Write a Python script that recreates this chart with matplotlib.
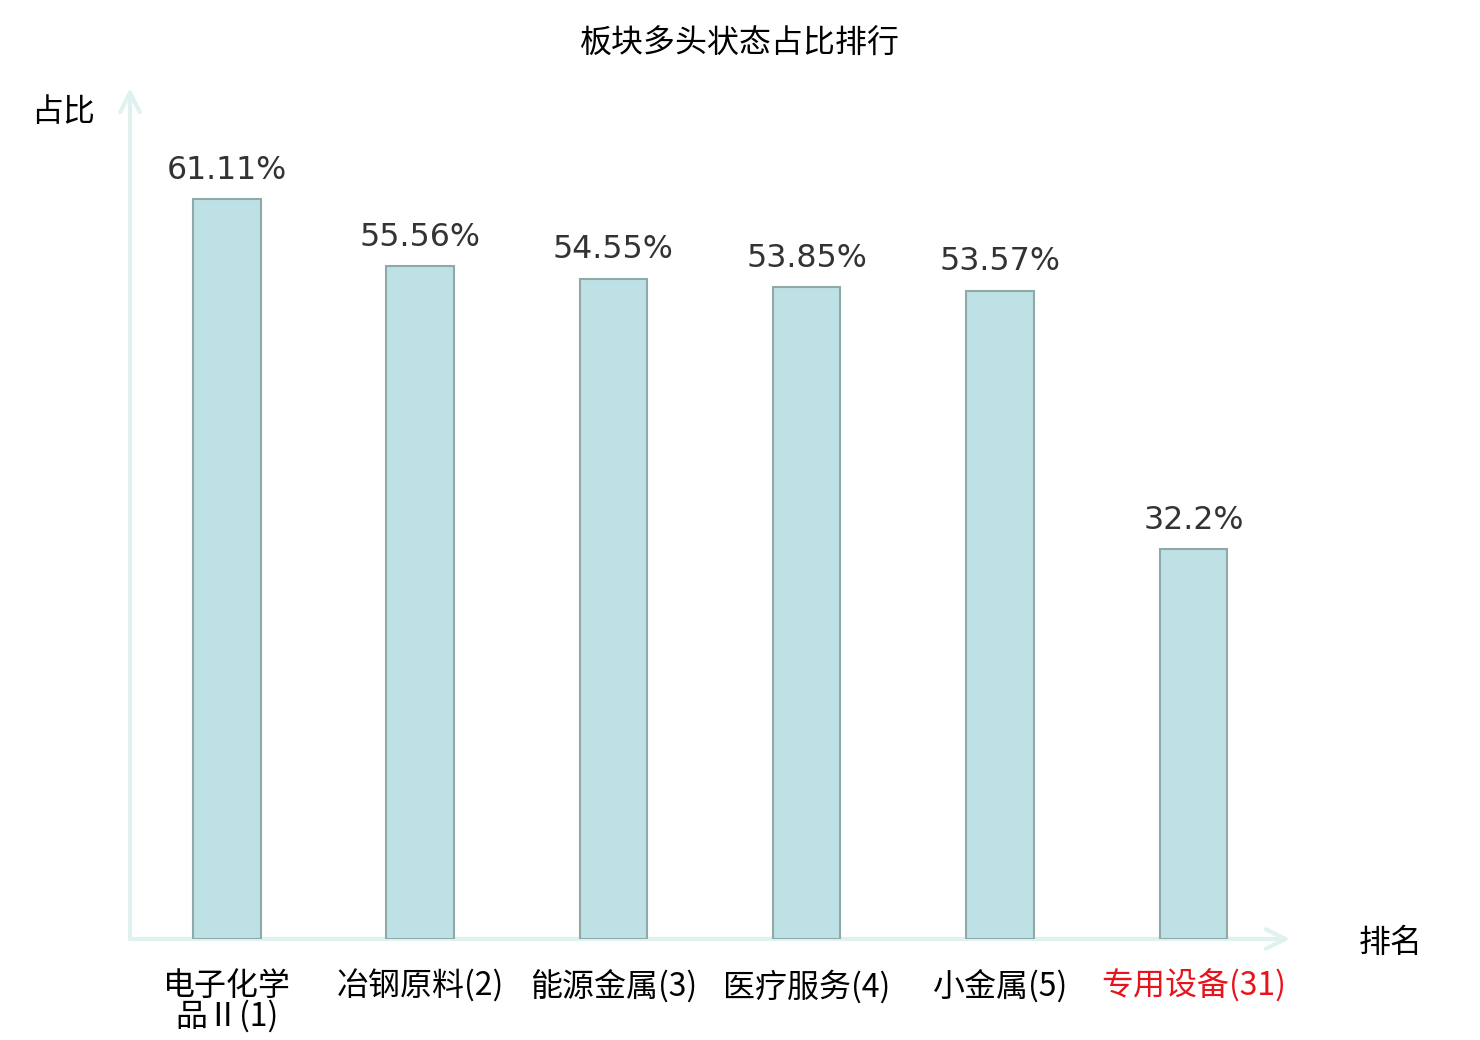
import matplotlib
matplotlib.use("Agg")
import matplotlib.pyplot as plt

plt.rcParams['font.family'] = ['Noto Sans CJK SC', 'DejaVu Sans']

categories = ['电子化学\n品Ⅱ(1)', '冶钢原料(2)', '能源金属(3)', '医疗服务(4)', '小金属(5)', '专用设备(31)']
values = [61.11, 55.56, 54.55, 53.85, 53.57, 32.2]
value_labels = ['61.11%', '55.56%', '54.55%', '53.85%', '53.57%', '32.2%']
label_colors = ['#000000', '#000000', '#000000', '#000000', '#000000', '#e8141b']

fig = plt.figure(figsize=(14.8, 10.4), dpi=100)
ax = fig.add_axes([130/1480, 1 - 939/1040, 1160/1480, 851/1040])

x = list(range(len(categories)))
ax.bar(x, values, width=0.35, color='#bde1e4', edgecolor='#8fa8a8', linewidth=1.5, zorder=2)

for xi, v, lab in zip(x, values, value_labels):
    ax.annotate(lab, (xi, v), xytext=(0, 9.5), textcoords='offset points',
                ha='center', va='bottom', fontsize=22.8, color='#333333',
                family=['DejaVu Sans'])

ax.set_xlim(-0.5, 5.5)
ax.set_ylim(0, 70.3)
ax.set_xticks(x)
ax.set_xticklabels(categories, fontsize=23, linespacing=0.95)
for t, c in zip(ax.get_xticklabels(), label_colors):
    t.set_color(c)
ax.tick_params(axis='x', length=0, pad=22)
ax.set_yticks([])
for s in ax.spines.values():
    s.set_visible(False)

axis_color = '#dff2ef'
ax.annotate('', xy=(1.0, 0), xytext=(0, 0), xycoords='axes fraction',
            arrowprops=dict(arrowstyle='->', color=axis_color, lw=3,
                            mutation_scale=35, shrinkA=0, shrinkB=0), zorder=1)
ax.annotate('', xy=(0, 1.0), xytext=(0, 0), xycoords='axes fraction',
            arrowprops=dict(arrowstyle='->', color=axis_color, lw=3,
                            mutation_scale=35, shrinkA=0, shrinkB=0), zorder=1)

fig.text(740/1480, 1 - 44/1040, '板块多头状态占比排行', ha='center', va='center', fontsize=23, color='#000000')
fig.text(63/1480, 1 - 112/1040, '占比', ha='center', va='center', fontsize=23, color='#000000')
fig.text(1391/1480, 1 - 943/1040, '排名', ha='center', va='center', fontsize=23, color='#000000')

fig.savefig('out.png', dpi=100, facecolor='white')
